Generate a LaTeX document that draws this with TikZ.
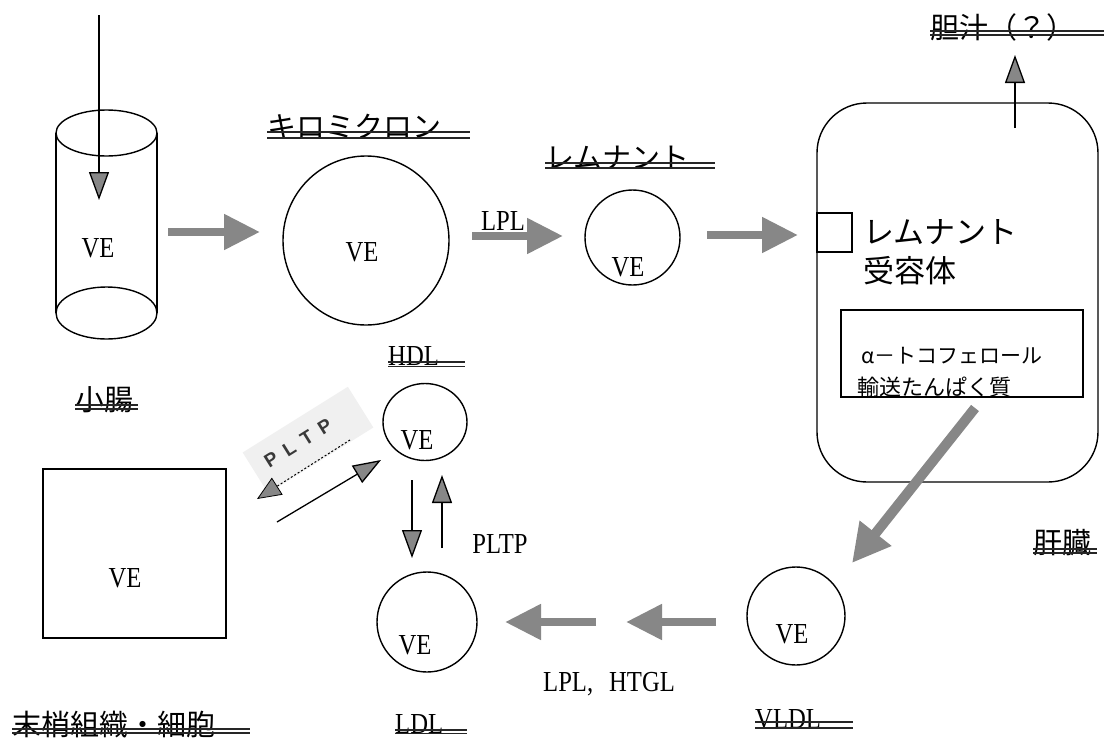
\documentclass[tikz,border=0pt]{standalone}
\usepackage{fontspec}
\setmainfont{Liberation Serif}[FakeStretch=0.85]
\newfontfamily\jp{Noto Sans CJK JP}
\newfontfamily\sansb{Liberation Sans}
\usetikzlibrary{arrows.meta,shapes.geometric}
\definecolor{agray}{RGB}{135,135,135}
\begin{document}
\begin{tikzpicture}[x=1pt,y=-1pt,
  ln/.style={line width=1.4pt},
  circ/.style={draw, ellipse, line width=1.4pt, inner sep=0pt},
  bigarrow/.style={draw=agray, line width=8pt, -{Triangle[length=36pt,width=34pt,fill=agray]}},
  thinarrow/.style={line width=1.3pt, -{Triangle[length=28pt,width=20pt,fill=agray]}},
  ve/.style={inner sep=0pt, font=\fontsize{29}{29}\selectfont},
  latl/.style={inner sep=0pt, anchor=base west, font=\fontsize{29}{29}\selectfont},
  jpl/.style={inner sep=0pt, anchor=base west, font=\jp\fontsize{29}{29}\selectfont},
  dbl/.style={line width=1.4pt, draw=black!85},
]
\fill[white] (0,0) rectangle (1104,742);
\useasboundingbox (0,0) rectangle (1104,742);

% small intestine (cylinder)
\draw[ln] (106.5,133) ellipse (50.5 and 23);
\draw[ln] (106.5,313) ellipse (50.5 and 26);
\draw[ln] (56,133) -- (56,313) (157,133) -- (157,313);
\node[ve] (vecyl) at (98,248) {VE};
\coordinate (intop) at (99,15);
\coordinate (intip) at (99,200);
\draw[thinarrow] (intop) -- (intip);
\node[jpl] (lsi) at (75,410) {小腸};
\draw[dbl] (75,405) -- (138,405) (75,409) -- (138,409);

% chylomicron
\node[circ, minimum width=166pt, minimum height=169pt] (chylo) at (366,240.5) {};
\node[ve] (vechylo) at (362,252) {VE};
\node[jpl] (lchylo) at (267,137) {キロミクロン};
\draw[dbl] (267,132) -- (470,132) (267,138) -- (470,138);
\coordinate (a1s) at (168,232);
\coordinate (a1e) at (260,232);
\draw[bigarrow] (a1s) -- (a1e);

% remnant
\node[circ, minimum width=95pt, minimum height=95pt] (rem) at (632.5,237.5) {};
\node[ve] (verem) at (628,267) {VE};
\node[jpl] (lrem) at (545,168) {レムナント};
\draw[dbl] (545,163) -- (715,163) (545,168) -- (715,168);
\coordinate (a2s) at (472,236);
\coordinate (a2e) at (563,236);
\draw[bigarrow] (a2s) -- (a2e);
\node[ve] (lpl1) at (503,221) {LPL};
\coordinate (a3s) at (707,235);
\coordinate (a3e) at (798,235);
\draw[bigarrow] (a3s) -- (a3e);

% liver
\node[draw, ln, rounded corners=50pt, minimum width=281pt, minimum height=379pt, inner sep=0pt] (liver) at (957.5,292.5) {};
\node[draw, ln, minimum width=35pt, minimum height=39pt, inner sep=0pt] (recbox) at (834.5,232.5) {};
\node[inner sep=0pt, anchor=base west, font=\jp\fontsize{31}{31}\selectfont] (rectxt1) at (863,243) {レムナント};
\node[inner sep=0pt, anchor=base west, font=\jp\fontsize{31}{31}\selectfont] (rectxt2) at (863,282) {受容体};
\node[draw, ln, minimum width=242pt, minimum height=87pt, inner sep=0pt] (ttp) at (962,353.5) {};
\node[inner sep=0pt, anchor=base west, font=\jp\fontsize{21}{21}\selectfont] (ttp1) at (861,363) {α－トコフェロール};
\node[inner sep=0pt, anchor=base west, font=\jp\fontsize{22}{22}\selectfont] (ttp2) at (857,395) {輸送たんぱく質};
\node[jpl] (lliver) at (1033,553) {肝臓};
\draw[dbl] (1033,549) -- (1097,549) (1033,553) -- (1097,553);

% bile
\coordinate (bs) at (1015,128);
\coordinate (be) at (1015,55);
\draw[thinarrow] (bs) -- (be);
\node[jpl] (lbile) at (930,38) {胆汁（？）};
\draw[dbl] (930,31) -- (1104,31) (930,35) -- (1104,35);

% VLDL
\node[circ, minimum width=98pt, minimum height=98pt] (vldl) at (796,616) {};
\node[ve] (vevldl) at (792,634) {VE};
\node[latl] (lvldl) at (755,728) {VLDL};
\draw[dbl] (755,722) -- (853,722) (755,728) -- (853,728);
\coordinate (a4s) at (975,408);
\coordinate (a4e) at (852,563);
\draw[draw=agray, line width=10pt, -{Triangle[length=38pt,width=38pt,fill=agray]}] (a4s) -- (a4e);

% LDL
\node[circ, minimum width=100pt, minimum height=100pt] (ldl) at (427,622) {};
\node[ve] (veldl) at (415,645) {VE};
\node[latl] (lldl) at (395,733) {LDL};
\draw[dbl] (395,730) -- (467,730) (395,733.5) -- (467,733.5);
\coordinate (a5s) at (716,622);
\coordinate (a5e) at (626,622);
\draw[bigarrow] (a5s) -- (a5e);
\coordinate (a6s) at (596,622);
\coordinate (a6e) at (505,622);
\draw[bigarrow] (a6s) -- (a6e);
\node[ve, anchor=west] (lplhtgl) at (543,684) {LPL,\hspace{16pt}HTGL};

% HDL
\node[circ, minimum width=84pt, minimum height=77pt] (hdl) at (425,422) {};
\node[ve] (vehdl) at (417,440) {VE};
\node[latl] (lhdl) at (388,365) {HDL};
\draw[dbl] (388,362) -- (465,362) (388,366.5) -- (465,366.5);
\coordinate (d1s) at (412,480);
\coordinate (d1e) at (412,558);
\draw[thinarrow] (d1s) -- (d1e);
\coordinate (u1s) at (442,548);
\coordinate (u1e) at (442,475);
\draw[thinarrow] (u1s) -- (u1e);
\node[ve] (pltp) at (500,544) {PLTP};

% peripheral tissue
\node[draw, ln, minimum width=183pt, minimum height=169pt, inner sep=0pt] (peri) at (134.5,553.5) {};
\node[ve] (veperi) at (125,578) {VE};
\node[jpl] (lperi) at (12,735) {末梢組織・細胞};
\draw[dbl] (12,729) -- (250,729) (12,733) -- (250,733);

% PLTP exchange arrows
\fill[gray!12, rotate around={32:(308,440)}] (246,416) rectangle (370,464);
\node[inner sep=0pt, rotate=32, text=gray!45!black, font=\sansb\bfseries\fontsize{19}{19}\selectfont] (pltpr) at (298,443) {P\hspace{9pt}L\hspace{9pt}T\hspace{9pt}P};
\coordinate (p1s) at (350,440);
\coordinate (p1e) at (257,499);
\draw[line width=1pt, dash pattern=on 2pt off 2pt, -{Triangle[length=24pt,width=20pt,fill=agray,line width=0.8pt]}] (p1s) -- (p1e);
\coordinate (p2s) at (277,522);
\coordinate (p2e) at (381,460);
\draw[thinarrow] (p2s) -- (p2e);
\end{tikzpicture}
\end{document}
